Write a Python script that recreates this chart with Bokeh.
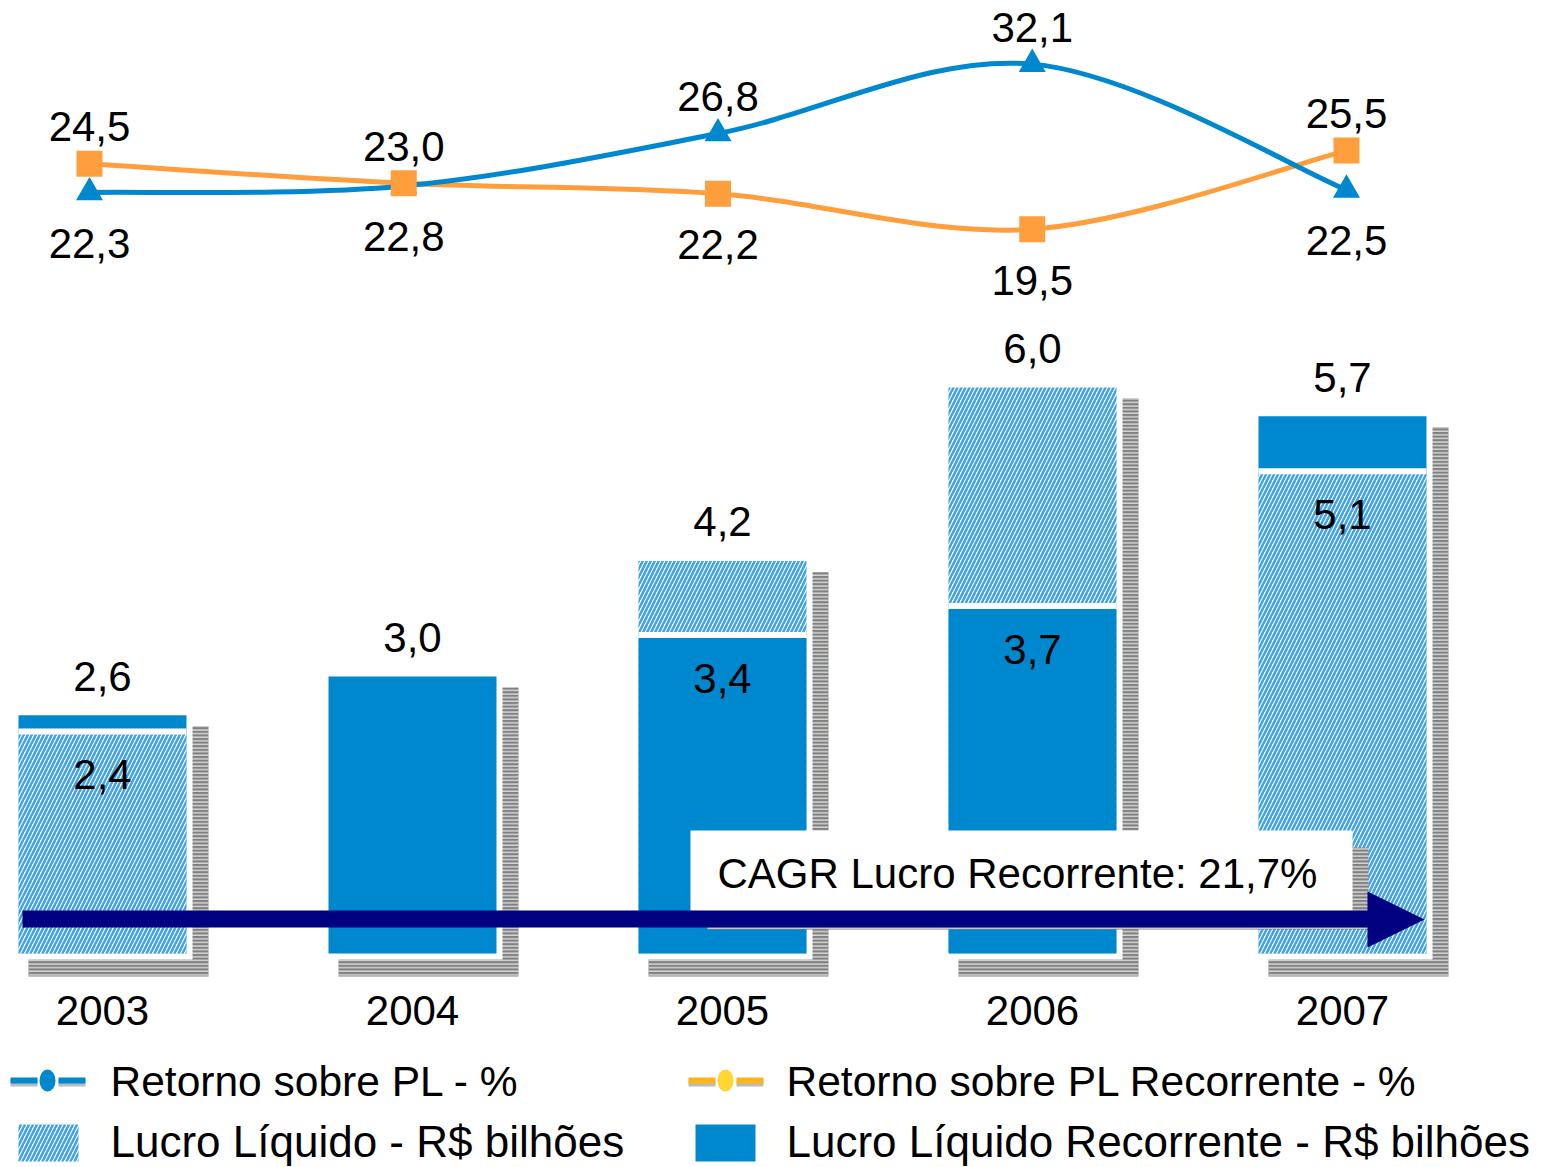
from bokeh.plotting import figure
from bokeh.models import Range1d
from bokeh.embed import file_html
from bokeh.resources import INLINE
from bokeh.core.properties import value

# ---------------- data ----------------
YEARS = ["2003", "2004", "2005", "2006", "2007"]
LUCRO = [2.4, 3.0, 4.2, 6.0, 5.1]            # Lucro Líquido - R$ bilhões
LUCRO_REC = [2.6, 3.0, 3.4, 3.7, 5.7]        # Lucro Líquido Recorrente - R$ bilhões
ROE = [22.3, 22.8, 26.8, 32.1, 22.5]         # Retorno sobre PL - %
ROE_REC = [24.5, 23.0, 22.2, 19.5, 25.5]     # Retorno sobre PL Recorrente - %
CAGR_LABEL = "CAGR Lucro Recorrente: 21,7%"
LEG_ROE = "Retorno sobre PL - %"
LEG_ROE_REC = "Retorno sobre PL Recorrente - %"
LEG_LUCRO = "Lucro Líquido - R$ bilhões"
LEG_LUCRO_REC = "Lucro Líquido Recorrente - R$ bilhões"

# ---------------- layout / style ----------------
W, H = 1558, 1167
BAR_STEP, BAR_X0 = 310.0, 102.0
Y_PX, Y_ZERO = 96.4, 965.3
LINE_STEP, LINE_X0 = 314.25, 89.0
ROE_PX, ROE_REF, ROE_REF_Y = 13.1, 22.3, 192.0
PXX, PXY = 1.0 / BAR_STEP, 1.0 / Y_PX
BW = 168 * PXX
BASE = 12.3 * PXY

BLUE = "#0088CE"
HATCH_BLUE = "#3FA3E0"
ORANGE = "#FF9E3D"
NAVY = "#000080"
SHADOW = "#808080"
FONT = value("Liberation Sans")


def fmt(v):
    return f"{v:.1f}".replace(".", ",")


p = figure(width=W, height=H,
           x_range=Range1d(-BAR_X0 / BAR_STEP, (W - BAR_X0) / BAR_STEP),
           y_range=Range1d((Y_ZERO - H) / Y_PX, Y_ZERO / Y_PX),
           output_backend="svg", toolbar_location=None, min_border=0,
           x_axis_type=None, y_axis_type=None)
p.grid.visible = False
p.outline_line_color = None
p.background_fill_color = "white"
p.border_fill_color = "white"
p.extra_x_ranges = {
    "line": Range1d(-LINE_X0 / LINE_STEP, (W - LINE_X0) / LINE_STEP),
    "px": Range1d(0, W),
}
p.extra_y_ranges = {
    "roe": Range1d(ROE_REF - (H - ROE_REF_Y) / ROE_PX, ROE_REF + ROE_REF_Y / ROE_PX),
    "px": Range1d(H, 0),
}

xs = list(range(len(YEARS)))
back = [max(a, b) for a, b in zip(LUCRO, LUCRO_REC)]
front = [min(a, b) for a, b in zip(LUCRO, LUCRO_REC)]
back_hatched = [a > b for a, b in zip(LUCRO, LUCRO_REC)]

hatch_kw = dict(fill_color="white", hatch_pattern="/", hatch_color=HATCH_BLUE,
                hatch_scale=8, hatch_weight=2.5, line_color=None)
shadow_kw = dict(fill_color=SHADOW, hatch_pattern="-", hatch_color="white",
                 hatch_scale=3.6, hatch_weight=1, line_color=None)

# shadows
p.quad(left=[x - BW / 2 + 10 * PXX for x in xs], right=[x + BW / 2 + 22 * PXX for x in xs],
       top=[b - 11 * PXY for b in back], bottom=[BASE - 23 * PXY] * len(xs), **shadow_kw)
p.quad(left=[x - BW / 2 for x in xs], right=[x + BW / 2 + 6 * PXX for x in xs],
       top=back, bottom=[BASE - 6 * PXY] * len(xs), fill_color="white", line_color=None)

# back bars
sx = [x for x, h in zip(xs, back_hatched) if not h]
sv = [b for b, h in zip(back, back_hatched) if not h]
hx = [x for x, h in zip(xs, back_hatched) if h]
hv = [b for b, h in zip(back, back_hatched) if h]
p.vbar(x=sx, width=BW, top=sv, bottom=BASE, fill_color=BLUE, line_color=None)
p.vbar(x=hx, width=BW, top=hv, bottom=BASE, **hatch_kw)

# front bars (smaller value) with white gap
fidx = [i for i in xs if front[i] < back[i]]
p.vbar(x=fidx, width=BW, top=[front[i] + 6 * PXY for i in fidx], bottom=BASE,
       fill_color="white", line_color=None)
fs = [i for i in fidx if back_hatched[i]]      # solid in front
fh = [i for i in fidx if not back_hatched[i]]  # hatched in front
p.vbar(x=fs, width=BW, top=[front[i] for i in fs], bottom=BASE, fill_color=BLUE, line_color=None)
p.vbar(x=fh, width=BW, top=[front[i] for i in fh], bottom=BASE, **hatch_kw)

txt = dict(text_font=FONT, text_font_size="42px", text_color="black",
           text_align="center", text_baseline="middle")
p.text(x=xs, y=back, text=[fmt(v) for v in back], y_offset=-39, **txt)
p.text(x=fidx, y=[front[i] for i in fidx], text=[fmt(front[i]) for i in fidx], y_offset=40, **txt)
p.text(x=xs, y=[1010] * len(xs), text=YEARS, y_range_name="px", **txt)


# smooth lines (Catmull-Rom -> bezier)
def smooth(ys, color):
    n = len(ys)
    P = list(zip(xs, ys))
    x0, y0, x1, y1, cx0, cy0, cx1, cy1 = ([] for _ in range(8))
    for i in range(n - 1):
        pm = P[max(i - 1, 0)]
        pa = P[i]
        pb = P[i + 1]
        pn = P[min(i + 2, n - 1)]
        x0.append(pa[0]); y0.append(pa[1]); x1.append(pb[0]); y1.append(pb[1])
        cx0.append(pa[0] + (pb[0] - pm[0]) / 6); cy0.append(pa[1] + (pb[1] - pm[1]) / 6)
        cx1.append(pb[0] - (pn[0] - pa[0]) / 6); cy1.append(pb[1] - (pn[1] - pa[1]) / 6)
    p.bezier(x0=x0, y0=y0, x1=x1, y1=y1, cx0=cx0, cy0=cy0, cx1=cx1, cy1=cy1,
             line_color=color, line_width=5, x_range_name="line", y_range_name="roe")


smooth(ROE_REC, ORANGE)
smooth(ROE, BLUE)
p.scatter(x=xs, y=ROE, marker="triangle", size=27, fill_color=BLUE, line_color=None,
          x_range_name="line", y_range_name="roe")
p.scatter(x=xs, y=ROE_REC, marker="square", size=26, fill_color=ORANGE, line_color=None,
          x_range_name="line", y_range_name="roe")

for series, other in ((ROE, ROE_REC), (ROE_REC, ROE)):
    up = [i for i in xs if series[i] > other[i]]
    dn = [i for i in xs if series[i] <= other[i]]
    p.text(x=up, y=[series[i] for i in up], text=[fmt(series[i]) for i in up], y_offset=-37,
           x_range_name="line", y_range_name="roe", **txt)
    p.text(x=dn, y=[series[i] for i in dn], text=[fmt(series[i]) for i in dn], y_offset=51,
           x_range_name="line", y_range_name="roe", **txt)

# CAGR box + arrow
px = dict(x_range_name="px", y_range_name="px")
p.quad(left=[707], right=[1368], top=[847], bottom=[929], **shadow_kw, **px)
p.quad(left=[690], right=[1352], top=[830], bottom=[912], fill_color="white", line_color=None, **px)
p.text(x=[717], y=[873], text=[CAGR_LABEL], text_font=FONT, text_font_size="42px",
       text_color="black", text_align="left", text_baseline="middle", **px)
p.quad(left=[22], right=[1368], top=[910], bottom=[927], fill_color=NAVY, line_color=None, **px)
p.patch(x=[1367, 1424, 1367], y=[891, 919, 947], fill_color=NAVY, line_color=None, **px)

# legend
leg_txt = dict(text_font=FONT, text_color="black", text_align="left", text_baseline="middle")
for (lx, lc, dc) in ((10, BLUE, BLUE), (688, "#FDB515", "#FFD633")):
    p.segment(x0=[lx, lx + 48], y0=[1083, 1083], x1=[lx + 27, lx + 75], y1=[1083, 1083],
              line_color="#BBBBBB", line_width=6, **px)
    p.segment(x0=[lx, lx + 48], y0=[1080, 1080], x1=[lx + 27, lx + 75], y1=[1080, 1080],
              line_color=lc, line_width=6, **px)
    p.ellipse(x=[lx + 37], y=[1080], width=16, height=22, fill_color=dc, line_color=None, **px)
p.text(x=[110], y=[1081], text=[LEG_ROE], text_font_size="42.5px", **leg_txt, **px)
p.text(x=[786], y=[1081], text=[LEG_ROE_REC], text_font_size="42.5px", **leg_txt, **px)
p.quad(left=[18], right=[78], top=[1124], bottom=[1161], **hatch_kw, **px)
p.quad(left=[695], right=[755], top=[1124], bottom=[1161], fill_color=BLUE, line_color=None, **px)
p.text(x=[110], y=[1141], text=[LEG_LUCRO], text_font_size="44px", **leg_txt, **px)
p.text(x=[786], y=[1141], text=[LEG_LUCRO_REC], text_font_size="44px", **leg_txt, **px)

open("out.html", "w").write(file_html(p, INLINE))
